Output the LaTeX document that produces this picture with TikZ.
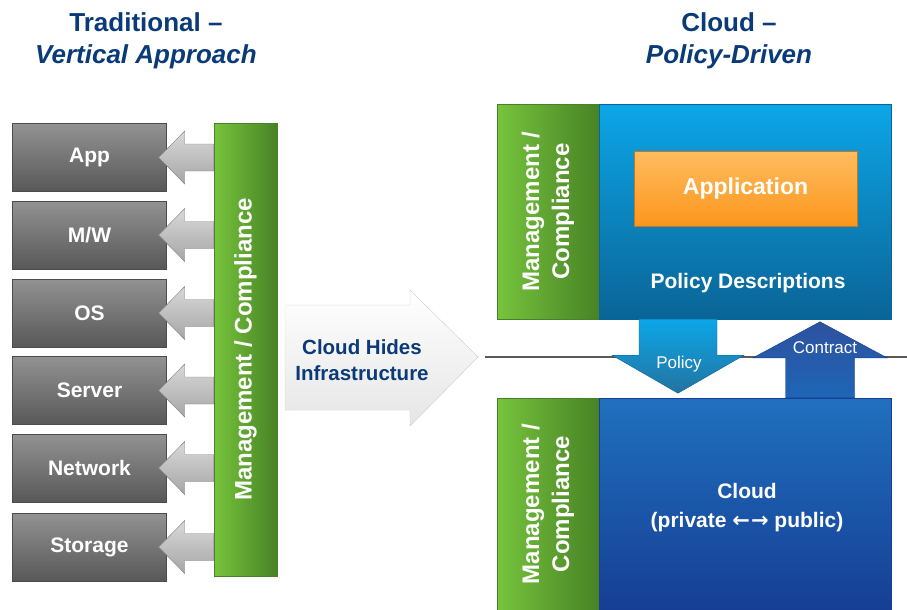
\documentclass[tikz,border=0pt]{standalone}
\usepackage{fontspec}
\setmainfont{Liberation Sans}
\newfontfamily\arrowfont{DejaVu Sans}
\usepackage{tikz}
\usetikzlibrary{calc}
\definecolor{titleblue}{RGB}{11,58,120}
\definecolor{graytop}{RGB}{146,146,146}
\definecolor{graybot}{RGB}{88,88,88}
\definecolor{greenlight}{RGB}{118,196,60}
\definecolor{greendark}{RGB}{72,130,38}
\definecolor{bluetop}{RGB}{12,166,232}
\definecolor{bluebot}{RGB}{10,100,150}
\definecolor{orangetop}{RGB}{255,188,96}
\definecolor{orangebot}{RGB}{252,150,28}
\definecolor{cloudtop}{RGB}{32,112,190}
\definecolor{cloudbot}{RGB}{22,62,148}

\begin{document}
\begin{tikzpicture}[x=1pt,y=-1pt,
    titletext/.style={text=titleblue,align=center,font=\bfseries\fontsize{26}{32}\selectfont},
    layerbox/.style={draw=gray!60!black,top color=graytop,bottom color=graybot,minimum width=154,minimum height=68,text=white,font=\bfseries\fontsize{21}{25}\selectfont},
    greenbar/.style={draw=greendark,left color=greenlight,right color=greendark,inner sep=0},
    mgmttext/.style={text=white,rotate=90,align=center,font=\bfseries\fontsize{24}{30}\selectfont},
    layerarrow/.style={draw=gray,top color=gray!30,bottom color=gray!70},
    whitetext/.style={text=white,align=center,font=\bfseries\fontsize{21}{29}\selectfont}]
    \useasboundingbox (0,0) rectangle (907,610);

    % titles
    \node[titletext] (tradtitle) at (146,41) {Traditional --\\\textit{Vertical Approach}};
    \node[titletext] (cloudtitle) at (729,41) {Cloud --\\\textit{Policy-Driven}};

    % vertical stack
    \node[layerbox] (app) at (89.5,157.5) {App};
    \node[layerbox] (mw) at (89.5,235) {M/W};
    \node[layerbox] (os) at (89.5,313) {OS};
    \node[layerbox] (server) at (89.5,390.5) {Server};
    \node[layerbox] (network) at (89.5,468) {Network};
    \node[layerbox] (storage) at (89.5,547) {Storage};

    \node[greenbar,minimum width=63,minimum height=453] (mgmt) at (245.5,349.5) {};
    \node[mgmttext] (mgmtlbl) at (mgmt.center) {Management / Compliance};

    % arrows from the bar to each layer
    \foreach \b in {app,mw,os,server,network,storage}{
      \draw[layerarrow] ($(mgmt.west |- \b.east)+(0,-13.5)$) -- ($(\b.east)+(18,-13.5)$)
        -- ($(\b.east)+(18,-26.5)$) -- ($(\b.east)+(-8,0)$) -- ($(\b.east)+(18,26.5)$)
        -- ($(\b.east)+(18,13.5)$) -- ($(mgmt.west |- \b.east)+(0,13.5)$) -- cycle;
    }

    % big arrow in the middle
    \draw[draw=gray!40,top color=white,bottom color=gray!20]
      (285,305) -- (410,305) -- (410,290) -- (478,357) -- (410,426) -- (410,410) -- (285,410) -- cycle;
    \node[text=titleblue,align=center,font=\bfseries\fontsize{20.5}{26}\selectfont] (hides) at (362,360) {Cloud Hides\\Infrastructure};

    % separating line
    \coordinate (lineL) at (485,357);
    \coordinate (lineR) at (907,357);
    \draw[gray!70!black,line width=1.5] (lineL) -- (lineR);

    % policy layer
    \node[greenbar,minimum width=102,minimum height=215] (topmgmt) at (548,211.5) {};
    \node[mgmttext] (topmgmtlbl) at (topmgmt.center) {Management /\\Compliance};
    \node[draw=bluebot,top color=bluetop,bottom color=bluebot,minimum width=292,minimum height=215] (polbox) at (745,211.5) {};
    \node[draw=orangebot!80!black,top color=orangetop,bottom color=orangebot,minimum width=223,minimum height=75,text=white,font=\bfseries\fontsize{23}{28}\selectfont] (appbox) at (745.5,188.5) {Application};
    \node[whitetext] (poldesc) at (748,283) {Policy Descriptions};

    % cloud layer
    \node[greenbar,minimum width=102,minimum height=212] (botmgmt) at (548,504) {};
    \node[mgmttext] (botmgmtlbl) at (botmgmt.center) {Management /\\Compliance};
    \node[draw=cloudbot,top color=cloudtop,bottom color=cloudbot,minimum width=292,minimum height=212] (cloudbox) at (745,504) {};
    \node[whitetext] (cloudlbl) at (747,508) {Cloud\\(private {\arrowfont\bfseries ←\kern1pt→} public)};

    % policy and contract arrows
    \coordinate (pin) at ($(polbox.south)+(-67,0)$);
    \draw[draw=bluebot,top color=bluetop,bottom color=bluebot!90!white]
      ($(pin)+(-39,0)$) -- ($(pin)+(-39,36)$) -- ($(pin)+(-66,36)$) -- ($(pin)+(0,74)$)
      -- ($(pin)+(66,36)$) -- ($(pin)+(39,36)$) -- ($(pin)+(39,0)$) -- cycle;
    \node[text=white,font=\fontsize{17}{20}\selectfont] (policy) at ($(pin)+(1,45)$) {Policy};

    \coordinate (cin) at ($(cloudbox.north)+(75,0)$);
    \draw[draw=cloudbot,top color=cloudbot!90!white,bottom color=cloudtop!80!cloudbot]
      ($(cin)+(-34.5,0)$) -- ($(cin)+(-34.5,-40)$) -- ($(cin)+(-67,-40)$) -- ($(cin)+(0,-76)$)
      -- ($(cin)+(67,-40)$) -- ($(cin)+(34.5,-40)$) -- ($(cin)+(34.5,0)$) -- cycle;
    \node[text=white,font=\fontsize{17}{20}\selectfont] (contract) at ($(cin)+(5,-50)$) {Contract};
\end{tikzpicture}
\end{document}
